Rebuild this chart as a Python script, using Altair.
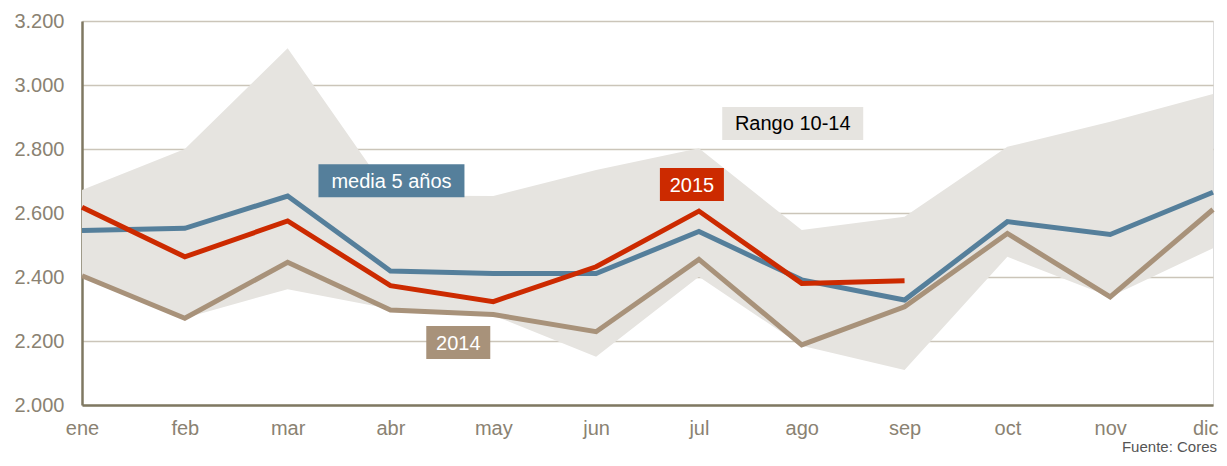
import altair as alt
import pandas as pd

months = ["ene", "feb", "mar", "abr", "may", "jun", "jul", "ago", "sep", "oct", "nov", "dic"]
media5 = [2545, 2552, 2653, 2419, 2411, 2411, 2542, 2391, 2328, 2573, 2533, 2665]
y2015 = [2618, 2463, 2575, 2373, 2323, 2432, 2606, 2380, 2388]
y2014 = [2404, 2271, 2446, 2297, 2283, 2229, 2455, 2188, 2307, 2536, 2338, 2611]
rango_min = [2400, 2272, 2362, 2300, 2280, 2151, 2401, 2185, 2109, 2463, 2338, 2490]
rango_max = [2672, 2800, 3115, 2655, 2653, 2734, 2802, 2547, 2588, 2807, 2885, 2972]

label_text = ["media 5 años", "2015", "2014", "Rango 10-14"]
label_month = ["abr", "jul", "may", "ago"]
label_value = [2701, 2689, 2195, 2880]
source_text = "Fuente: Cores"

FONT = "Liberation Sans"
BLUE = "#557f9b"
RED = "#cc2a00"
TAN = "#a8927a"
BAND = "#e6e4e0"

band_df = pd.DataFrame({"mes": months, "lo": rango_min, "hi": rango_max})
m_df = pd.DataFrame({"mes": months, "v": media5})
r_df = pd.DataFrame({"mes": months[:len(y2015)], "v": y2015})
t_df = pd.DataFrame({"mes": months, "v": y2014})

xenc = alt.X("mes:N", sort=months, scale=alt.Scale(type="point", padding=0, domain=months),
             axis=alt.Axis(title=None, labelAngle=0, labelFontSize=20, labelFont=FONT,
                           labelColor="#8a8272", ticks=False, labelPadding=13,
                           labelAlign=alt.ExprRef(expr="datum.value == 'dic' ? 'right' : 'center'"),
                           labelOffset=alt.ExprRef(expr="datum.value == 'dic' ? 5 : 0"),
                           domainColor="#7f7862", domainWidth=2.5, grid=False))
yscale = alt.Scale(domain=[2000, 3200], nice=False, zero=False)
yaxis = alt.Axis(title=None, values=[2000, 2200, 2400, 2600, 2800, 3000, 3200],
                 labelExpr="replace(format(datum.value, ','), ',', '.')",
                 labelFontSize=20, labelFont=FONT, labelColor="#8a8272", ticks=False,
                 labelPadding=18, domainColor="#7f7862", domainWidth=2.5,
                 grid=True, gridColor="#cbc5b9", gridWidth=1.5)

band = alt.Chart(band_df).mark_area(color=BAND, opacity=1).encode(
    x=xenc, y=alt.Y("lo:Q", scale=yscale, axis=yaxis), y2="hi:Q")

def line(df, color):
    return alt.Chart(df).mark_line(color=color, strokeWidth=5, strokeCap="butt").encode(
        x=alt.X("mes:N", sort=months), y=alt.Y("v:Q", scale=yscale))

def label(i, fill, textcolor, w, xoff):
    d = pd.DataFrame({"mes": [label_month[i]], "v": [label_value[i]], "t": [label_text[i]]})
    rect = alt.Chart(d).mark_rect(color=fill, width=w, height=33, xOffset=xoff).encode(
        x=alt.X("mes:N", sort=months), y=alt.Y("v:Q", scale=yscale))
    txt = alt.Chart(d).mark_text(color=textcolor, font=FONT, fontSize=20, align="center",
                                 baseline="middle", xOffset=xoff, dy=1).encode(
        x=alt.X("mes:N", sort=months), y=alt.Y("v:Q", scale=yscale), text="t:N")
    return rect + txt

src = alt.Chart(pd.DataFrame({"t": [source_text]})).mark_text(
    font=FONT, fontSize=15, color="#555555", align="right", baseline="alphabetic").encode(
    x=alt.value(1135), y=alt.value(431), text="t:N")

chart = alt.layer(
    band,
    line(t_df, TAN),
    line(m_df, BLUE),
    line(r_df, RED),
    label(0, BLUE, "white", 146, 1),
    label(1, RED, "white", 64, -7),
    label(2, TAN, "white", 64, -35),
    label(3, BAND, "black", 141, -9),
    src,
).properties(
    width=1131, height=384,
    autosize=alt.AutoSizeParams(type="none"),
    padding={"left": 74, "top": 13, "right": 6, "bottom": 52},
).configure_view(stroke=None).configure(background="white")

chart.save("out.html", embed_options={"renderer": "svg", "actions": False})
